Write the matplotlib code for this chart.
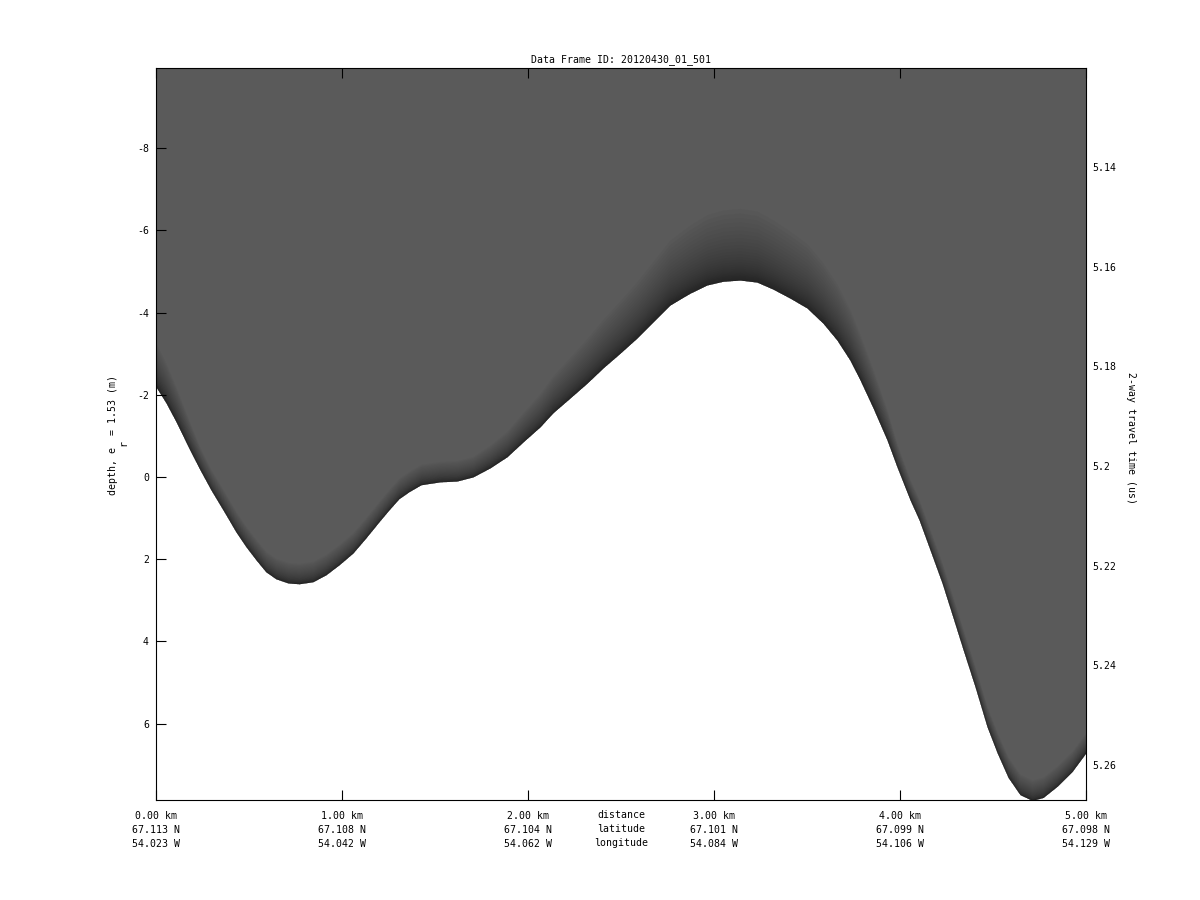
import numpy as np
import matplotlib
matplotlib.use("Agg")
import matplotlib.pyplot as plt

plt.rcParams['font.family'] = ['DejaVu Sans Mono']
plt.rcParams['font.size'] = 7.15
plt.rcParams['axes.unicode_minus'] = False

distance_km = [0.000, 0.054, 0.108, 0.177, 0.231, 0.296, 0.360, 0.430, 0.484, 0.538,
               0.591, 0.645, 0.710, 0.769, 0.844, 0.914, 0.984, 1.059, 1.129, 1.199,
               1.253, 1.306, 1.360, 1.425, 1.527, 1.618, 1.704, 1.796, 1.887, 1.973,
               2.065, 2.134, 2.226, 2.317, 2.403, 2.495, 2.586, 2.672, 2.763, 2.833,
               2.871, 2.962, 3.048, 3.140, 3.231, 3.317, 3.409, 3.500, 3.586, 3.661,
               3.731, 3.785, 3.855, 3.930, 3.984, 4.054, 4.102, 4.161, 4.226, 4.280,
               4.339, 4.403, 4.468, 4.522, 4.581, 4.645, 4.710, 4.769, 4.844, 4.925,
               5.000]
surface_depth_m = [-2.19, -1.80, -1.34, -0.70, -0.22, 0.32, 0.80, 1.34, 1.70, 2.02,
                   2.31, 2.48, 2.58, 2.60, 2.55, 2.38, 2.14, 1.85, 1.48, 1.09,
                   0.80, 0.53, 0.36, 0.19, 0.12, 0.10, 0.00, -0.22, -0.49, -0.85,
                   -1.22, -1.56, -1.92, -2.28, -2.65, -3.01, -3.38, -3.77, -4.18, -4.37,
                   -4.47, -4.67, -4.76, -4.79, -4.74, -4.57, -4.35, -4.11, -3.74, -3.33,
                   -2.84, -2.36, -1.68, -0.90, -0.24, 0.56, 1.04, 1.77, 2.58, 3.35,
                   4.20, 5.10, 6.08, 6.71, 7.31, 7.73, 7.87, 7.80, 7.53, 7.17,
                   6.71]

km_ticks = [0, 1, 2, 3, 4, 5]
km_labels = ['0.00 km', '1.00 km', '2.00 km', '3.00 km', '4.00 km', '5.00 km']
lat_labels = ['67.113 N', '67.108 N', '67.104 N', '67.101 N', '67.099 N', '67.098 N']
lon_labels = ['54.023 W', '54.042 W', '54.062 W', '54.084 W', '54.106 W', '54.129 W']
depth_ticks = [-8, -6, -4, -2, 0, 2, 4, 6]
time_ticks = [5.14, 5.16, 5.18, 5.2, 5.22, 5.24, 5.26]
time_labels = ['5.14', '5.16', '5.18', '5.2', '5.22', '5.24', '5.26']
title = 'Data Frame ID: 20120430_01_501'

W, H = 1200, 900
L, R, T, B = 156, 1086, 68, 800
fig = plt.figure(figsize=(12, 9), dpi=100, facecolor='white')
ax = fig.add_axes([L / W, 1 - B / H, (R - L) / W, (B - T) / H])

TOP, BOTTOM = -9.95, 7.86
ax.set_xlim(0, 5)
ax.set_ylim(BOTTOM, TOP)

x = np.array(distance_km)
s = np.array(surface_depth_m)
ax.fill_between(x, s, TOP, color='#5a5a5a', lw=0, zorder=1)
halo = np.maximum(0.5, 0.5 - 0.26 * s)
for f in np.linspace(1, 0.05, 30):
    ax.fill_between(x, s, s - halo * f ** 2, color='black', alpha=0.022, lw=0, zorder=2)

ax.set_title(title, fontsize=7.15, pad=4.5)

ax.set_xticks(km_ticks)
ax.set_xticklabels([f'{a}\n{b}\n{c}' for a, b, c in zip(km_labels, lat_labels, lon_labels)],
                   linespacing=1.5)
ax.set_yticks(depth_ticks)
ax.set_yticklabels([str(d) for d in depth_ticks])
ax.tick_params(axis='both', direction='in', length=7.2, width=0.8, top=True, right=True,
               color='black', zorder=5)
ax.tick_params(axis='x', pad=8)
ax.tick_params(axis='y', pad=5)
ax.set_axisbelow(False)
for sp in ax.spines.values():
    sp.set_linewidth(0.8)
    sp.set_zorder(6)

ax.text(2.5, -(816 - 6 - B) / (B - T), 'distance\nlatitude\nlongitude',
        transform=ax.get_xaxis_transform(), ha='center', va='top',
        linespacing=1.5, fontsize=7.15)

ax.set_ylabel('depth, e  = 1.53 (m)', fontsize=7.15, va='center')
ax.yaxis.set_label_coords((113 - L) / (R - L), 1 - (435 - T) / (B - T))
fig.text(123.5 / W, 1 - 443 / H, 'r', rotation=90, ha='center', va='center', fontsize=7.15)

ax2 = ax.twinx()
ax2.set_ylim(5.26702, 5.1201)
ax2.set_yticks(time_ticks)
ax2.set_yticklabels(time_labels)
ax2.tick_params(axis='y', length=0, pad=4.5)
ax2.set_ylabel('2-way travel time (us)', rotation=270, fontsize=7.15, va='center')
ax2.yaxis.set_label_coords((1131 - L) / (R - L), 1 - (438 - T) / (B - T))
for sp in ax2.spines.values():
    sp.set_visible(False)

fig.savefig('out.png', dpi=100, facecolor='white')
